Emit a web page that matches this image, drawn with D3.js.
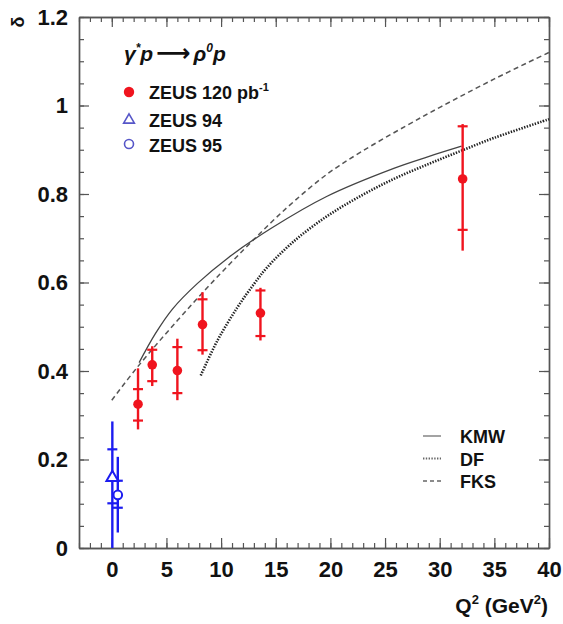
<!DOCTYPE html>
<html><head><meta charset="utf-8">
<script src="https://cdn.jsdelivr.net/npm/d3@7"></script>
<style>
html,body{margin:0;padding:0;background:#fff;}
svg{display:block;}
text{font-family:"Liberation Sans",Arial,sans-serif;font-weight:bold;fill:#111;}
</style></head>
<body>
<svg id="chart" width="563" height="624"></svg>
<script>
// ---- data ----
const xTicks = [0, 5, 10, 15, 20, 25, 30, 35, 40];
const yTicks = [0, 0.2, 0.4, 0.6, 0.8, 1, 1.2];
const yTickLabels = ["0", "0.2", "0.4", "0.6", "0.8", "1", "1.2"];

// ZEUS 120 pb-1
const q2Zeus120 = [2.4, 3.7, 6.0, 8.3, 13.6, 32.1];
const dZeus120 = [0.325, 0.414, 0.401, 0.505, 0.531, 0.834];
const statUp120 = [0.359, 0.448, 0.454, 0.562, 0.582, 0.953];
const statDn120 = [0.288, 0.377, 0.350, 0.447, 0.479, 0.719];
const totUp120 = [0.406, 0.456, 0.473, 0.578, 0.588, 0.958];
const totDn120 = [0.268, 0.366, 0.334, 0.437, 0.469, 0.672];

// ZEUS 94 (triangle)
const q2Zeus94 = [0.05];
const dZeus94 = [0.159];
const statUp94 = [0.223];
const statDn94 = [0.101];
const totUp94 = [0.286];
const totDn94 = [0.0];

// ZEUS 95 (circle)
const q2Zeus95 = [0.55];
const dZeus95 = [0.12];
const statUp95 = [0.152];
const statDn95 = [0.091];
const totUp95 = [0.206];
const totDn95 = [0.035];

// model curves
const q2KMW = [2.5, 4.0, 5.55, 7.84, 10.6, 14.55, 19.7, 25.8, 28.9, 32];
const dKMW  = [0.419, 0.485, 0.54, 0.598, 0.655, 0.722, 0.795, 0.858, 0.884, 0.908];
const q2DF = [8.14, 9.67, 11.5, 13.02, 14.24, 16.7, 19.7, 22.8, 25.8, 28.9, 31.9, 35, 40];
const dDF  = [0.39, 0.469, 0.544, 0.597, 0.635, 0.694, 0.75, 0.796, 0.834, 0.867, 0.897, 0.927, 0.969];
const q2FKS = [0, 2.35, 6, 9.06, 12.1, 14.55, 16.7, 19.7, 22.8, 27, 30.1, 35, 40];
const dFKS  = [0.334, 0.409, 0.514, 0.597, 0.675, 0.735, 0.784, 0.845, 0.895, 0.955, 0.997, 1.06, 1.12];

// ---- drawing ----
const svg = d3.select("#chart");
const L = 79, R = 549, T = 17, B = 548;
const x = d3.scaleLinear().domain([-3, 40]).range([L, R]);
const y = d3.scaleLinear().domain([0, 1.2]).range([B, T]);

const red = "#f0141e", blue = "#1c1cf0";
const frameCol = "#555";

function styleAxis(g){
  g.selectAll("path.domain").attr("stroke", frameCol).attr("stroke-width", 1.4);
  g.selectAll(".tick line").attr("stroke", frameCol).attr("stroke-width", 1.2);
}
const xMinor = d3.range(-3, 41, 1);
const yMinor = d3.range(0, 1.2001, 0.05);

// minor ticks
svg.append("g").attr("transform", `translate(0,${B})`)
  .call(d3.axisBottom(x).tickValues(xMinor).tickSize(-5).tickSizeOuter(0).tickFormat(""))
  .call(styleAxis);
svg.append("g").attr("transform", `translate(0,${T})`)
  .call(d3.axisTop(x).tickValues(xMinor).tickSize(-5).tickSizeOuter(0).tickFormat(""))
  .call(styleAxis);
svg.append("g").attr("transform", `translate(${L},0)`)
  .call(d3.axisLeft(y).tickValues(yMinor).tickSize(-5).tickSizeOuter(0).tickFormat(""))
  .call(styleAxis);
svg.append("g").attr("transform", `translate(${R},0)`)
  .call(d3.axisRight(y).tickValues(yMinor).tickSize(-5).tickSizeOuter(0).tickFormat(""))
  .call(styleAxis);

// major ticks
const gx = svg.append("g").attr("transform", `translate(0,${B})`)
  .call(d3.axisBottom(x).tickValues(xTicks).tickSize(-10).tickSizeOuter(0).tickPadding(13).tickFormat(d3.format("d")))
  .call(styleAxis);
gx.selectAll("text").attr("font-size", 22).attr("fill", "#111")
  .attr("font-family", "Liberation Sans, Arial, sans-serif").attr("font-weight", "bold");
svg.append("g").attr("transform", `translate(0,${T})`)
  .call(d3.axisTop(x).tickValues(xTicks).tickSize(-10).tickSizeOuter(0).tickFormat(""))
  .call(styleAxis);
const gy = svg.append("g").attr("transform", `translate(${L},0)`)
  .call(d3.axisLeft(y).tickValues(yTicks).tickSize(-10).tickSizeOuter(0).tickPadding(11)
    .tickFormat((d, i) => yTickLabels[i]))
  .call(styleAxis);
gy.selectAll("text").attr("font-size", 22).attr("fill", "#111")
  .attr("font-family", "Liberation Sans, Arial, sans-serif").attr("font-weight", "bold");
svg.append("g").attr("transform", `translate(${R},0)`)
  .call(d3.axisRight(y).tickValues(yTicks).tickSize(-10).tickSizeOuter(0).tickFormat(""))
  .call(styleAxis);

// axis titles
svg.append("text").attr("transform", "translate(24,22) rotate(-90)")
  .attr("font-size", 18).attr("font-weight", "normal").attr("font-family", "DejaVu Sans, sans-serif")
  .attr("fill", "#333").attr("text-anchor", "middle").text("δ");
const xt = svg.append("text").attr("x", 548).attr("y", 613).attr("text-anchor", "end").attr("font-size", 21);
xt.append("tspan").text("Q");
xt.append("tspan").attr("font-size", 13).attr("dy", -9).text("2");
xt.append("tspan").attr("dy", 9).text(" (GeV");
xt.append("tspan").attr("font-size", 13).attr("dy", -9).text("2");
xt.append("tspan").attr("dy", 9).text(")");

// curves
const line = d3.line().x(d => x(d[0])).y(d => y(d[1])).curve(d3.curveCatmullRom.alpha(0.5));
svg.append("path").datum(d3.zip(q2FKS, dFKS)).attr("d", line)
  .attr("fill", "none").attr("stroke", "#555").attr("stroke-width", 1.5).attr("stroke-dasharray", "5,3.5");
svg.append("path").datum(d3.zip(q2DF, dDF)).attr("d", line)
  .attr("fill", "none").attr("stroke", "#222").attr("stroke-width", 2.6).attr("stroke-dasharray", "1.4,1.4");
svg.append("path").datum(d3.zip(q2KMW, dKMW)).attr("d", line)
  .attr("fill", "none").attr("stroke", "#444").attr("stroke-width", 1.3);

// error bars helper
function errBars(q, d, su, sd, tu, td, col){
  const g = svg.append("g");
  q.forEach((qi, i) => {
    g.append("line").attr("x1", x(qi)).attr("x2", x(qi)).attr("y1", y(tu[i])).attr("y2", y(td[i]))
      .attr("stroke", col).attr("stroke-width", 2.4);
    [su[i], sd[i]].forEach(v => {
      g.append("line").attr("x1", x(qi) - 5).attr("x2", x(qi) + 5).attr("y1", y(v)).attr("y2", y(v))
        .attr("stroke", col).attr("stroke-width", 2.2);
    });
  });
}
errBars(q2Zeus94, dZeus94, statUp94, statDn94, totUp94, totDn94, blue);
errBars(q2Zeus95, dZeus95, statUp95, statDn95, totUp95, totDn95, blue);
errBars(q2Zeus120, dZeus120, statUp120, statDn120, totUp120, totDn120, red);

svg.append("g").selectAll("circle").data(d3.zip(q2Zeus120, dZeus120)).join("circle")
  .attr("cx", d => x(d[0])).attr("cy", d => y(d[1])).attr("r", 4.8).attr("fill", red);
svg.append("g").selectAll("path").data(d3.zip(q2Zeus94, dZeus94)).join("path")
  .attr("d", d3.symbol(d3.symbolTriangle, 60)).attr("transform", d => `translate(${x(d[0])},${y(d[1])})`)
  .attr("fill", "#fff").attr("stroke", blue).attr("stroke-width", 2);
svg.append("g").selectAll("circle").data(d3.zip(q2Zeus95, dZeus95)).join("circle")
  .attr("cx", d => x(d[0])).attr("cy", d => y(d[1])).attr("r", 4.3)
  .attr("fill", "#fff").attr("stroke", blue).attr("stroke-width", 2);

// top-left legend
const rx = svg.append("text").attr("x", 124).attr("y", 61).attr("font-size", 21)
  .attr("font-family", "Liberation Serif, serif").attr("font-style", "italic").attr("font-weight", "normal").attr("fill", "#111");
rx.append("tspan").text("γ");
rx.append("tspan").attr("font-size", 12).attr("dy", -9).text("*");
rx.append("tspan").attr("dy", 9).text("p");
rx.append("tspan").attr("font-style", "normal").attr("font-family", "DejaVu Sans, sans-serif")
  .attr("font-size", 24).attr("dx", 3).text("⟶");
rx.append("tspan").attr("dx", 3).text("ρ");
rx.append("tspan").attr("font-size", 12).attr("dy", -9).text("0");
rx.append("tspan").attr("dy", 9).text("p");

svg.append("circle").attr("cx", 129).attr("cy", 92).attr("r", 5.2).attr("fill", red);
svg.append("path").attr("d", d3.symbol(d3.symbolTriangle, 50)).attr("transform", "translate(129,120)")
  .attr("fill", "none").attr("stroke", "#5656c8").attr("stroke-width", 1.6);
svg.append("circle").attr("cx", 129).attr("cy", 144).attr("r", 4.5).attr("fill", "none")
  .attr("stroke", "#5656c8").attr("stroke-width", 1.6);
const l1 = svg.append("text").attr("x", 149).attr("y", 99).attr("font-size", 18);
l1.append("tspan").text("ZEUS 120 pb");
l1.append("tspan").attr("font-size", 11).attr("dy", -8).text("-1");
svg.append("text").attr("x", 149).attr("y", 127).attr("font-size", 18).text("ZEUS 94");
svg.append("text").attr("x", 149).attr("y", 152).attr("font-size", 18).text("ZEUS 95");

// bottom-right legend
const legItems = ["KMW", "DF", "FKS"];
const legDash = [null, "1.4,1.4", "4,3"];
const legWidth = [1.2, 2, 1.4];
legItems.forEach((name, i) => {
  const yy = 436 + i * 22.5;
  const ln = svg.append("line").attr("x1", 423).attr("x2", 441).attr("y1", yy).attr("y2", yy)
    .attr("stroke", "#666").attr("stroke-width", legWidth[i]);
  if (legDash[i]) ln.attr("stroke-dasharray", legDash[i]);
  svg.append("text").attr("x", 460).attr("y", yy + 7).attr("font-size", 18).text(name);
});
</script>
</body></html>
